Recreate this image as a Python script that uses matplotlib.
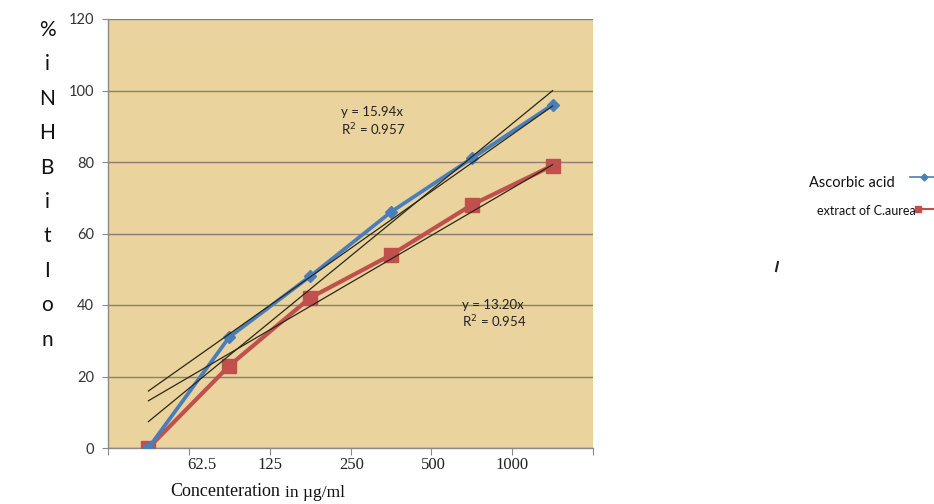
import numpy as np
import matplotlib.pyplot as plt
from matplotlib.lines import Line2D

# data (6 concentration steps)
positions = np.arange(1, 7)
ascorbic = [0, 31, 48, 66, 81, 96]
extract = [0, 23, 42, 54, 68, 79]
tick_labels = ['62.5', '125', '250', '500', '1000']
yticks = [0, 20, 40, 60, 80, 100, 120]

sans = 'Lato'
serif = 'Liberation Serif'

fig = plt.figure(figsize=(9.34, 5.04), dpi=100)
fig.patch.set_facecolor('white')
ax = fig.add_axes([108 / 934, 1 - 448 / 504, (593 - 108) / 934, (448 - 19) / 504])
ax.set_facecolor('#EAD39C')

ax.set_xlim(0.5, 6.5)
ax.set_ylim(0, 120)

# gridlines
ax.set_yticks(yticks)
ax.yaxis.grid(True, color='#8A7F6E', linewidth=1.0)
ax.set_axisbelow(True)
for s in ['top', 'right']:
    ax.spines[s].set_visible(False)
for s in ['left', 'bottom']:
    ax.spines[s].set_color('#8A8A8A')
    ax.spines[s].set_linewidth(1.0)

ax.set_yticklabels([str(v) for v in yticks], fontsize=10.5, family=sans, color='#333333')
ax.tick_params(axis='y', length=4, color='#8A8A8A', pad=6)

# category boundaries as tick marks, labels placed between
ax.set_xticks(np.arange(0.5, 7, 1))
ax.set_xticklabels([])
ax.tick_params(axis='x', length=5, color='#8A8A8A')
label_pos = [1.66, 2.5, 3.52, 4.52, 5.5]
for p, t in zip(label_pos, tick_labels):
    ax.text(p, -4.8, t, ha='center', va='center', fontsize=12, family=serif,
            color='#222222', clip_on=False)

# series
ax.plot(positions, extract, color='#C0504D', linewidth=3.0, marker='s',
        markersize=9.5, zorder=3)
ax.plot(positions, ascorbic, color='#4A7EBB', linewidth=2.7, marker='D',
        markersize=6, zorder=4)

# trendlines
xs = np.array(positions, dtype=float)
k_a = np.sum(xs * np.array(ascorbic)) / np.sum(xs ** 2)
k_e = np.sum(xs * np.array(extract)) / np.sum(xs ** 2)
m, c = np.polyfit(xs, ascorbic, 1)
tl = dict(color='#2A2718', linewidth=0.9, zorder=5)
ax.plot(xs, k_a * xs, **tl)
ax.plot(xs, k_e * xs, **tl)
ax.plot(xs, m * xs + c, **tl)

# trendline equations
eq = dict(fontsize=9.5, family=sans, color='#222222', va='center')
ax.text(3.38, 94.0, 'y = 15.94x', **eq)
ax.text(3.38, 89.0, 'R$^2$ = 0.957', **eq)
ax.text(4.88, 40.0, 'y = 13.20x', **eq)
ax.text(4.88, 35.2, 'R$^2$ = 0.954', **eq)

# x axis title
fig.text(170 / 934, 1 - 492 / 504, 'Concenteration', fontsize=13, family=serif,
         color='#111111', va='center')
fig.text(285 / 934, 1 - 493 / 504, 'in \u00b5g/ml', fontsize=12.5, family=serif,
         color='#111111', va='center')

# vertical y label, one letter per row
letters = ['%', 'i', 'N', 'H', 'B', 'i', 't', 'I', 'o', 'n']
for i, ch in enumerate(letters):
    fig.text(47 / 934, 1 - (30 + i * 34.4) / 504, ch, fontsize=15, family=sans,
             color='#111111', ha='center', va='center')

# legend drawn by hand, text right of the plot with markers after it
fig.text(895 / 934, 1 - 183 / 504, 'Ascorbic acid', fontsize=10.5, family=sans,
         color='#111111', ha='right', va='center')
fig.text(916 / 934, 1 - 211 / 504, 'extract of C.aurea', fontsize=9, family=sans,
         color='#111111', ha='right', va='center')
fig.add_artist(Line2D([910 / 934, 1.0], [1 - 177 / 504] * 2, color='#4A7EBB',
                      linewidth=1.2, transform=fig.transFigure))
fig.add_artist(Line2D([924 / 934], [1 - 177 / 504], color='#4A7EBB',
                      linewidth=0, marker='D', markersize=3.5,
                      transform=fig.transFigure))
fig.add_artist(Line2D([918 / 934, 940 / 934], [1 - 209 / 504] * 2, color='#C0504D',
                      linewidth=1.5, marker='s', markersize=5,
                      markevery=[0], transform=fig.transFigure))

# small stray mark near the legend
fig.add_artist(Line2D([776 / 934, 778 / 934], [1 - 271 / 504, 1 - 262 / 504],
                      color='#222222', linewidth=1.5, transform=fig.transFigure))

fig.savefig('out.png', dpi=100)
